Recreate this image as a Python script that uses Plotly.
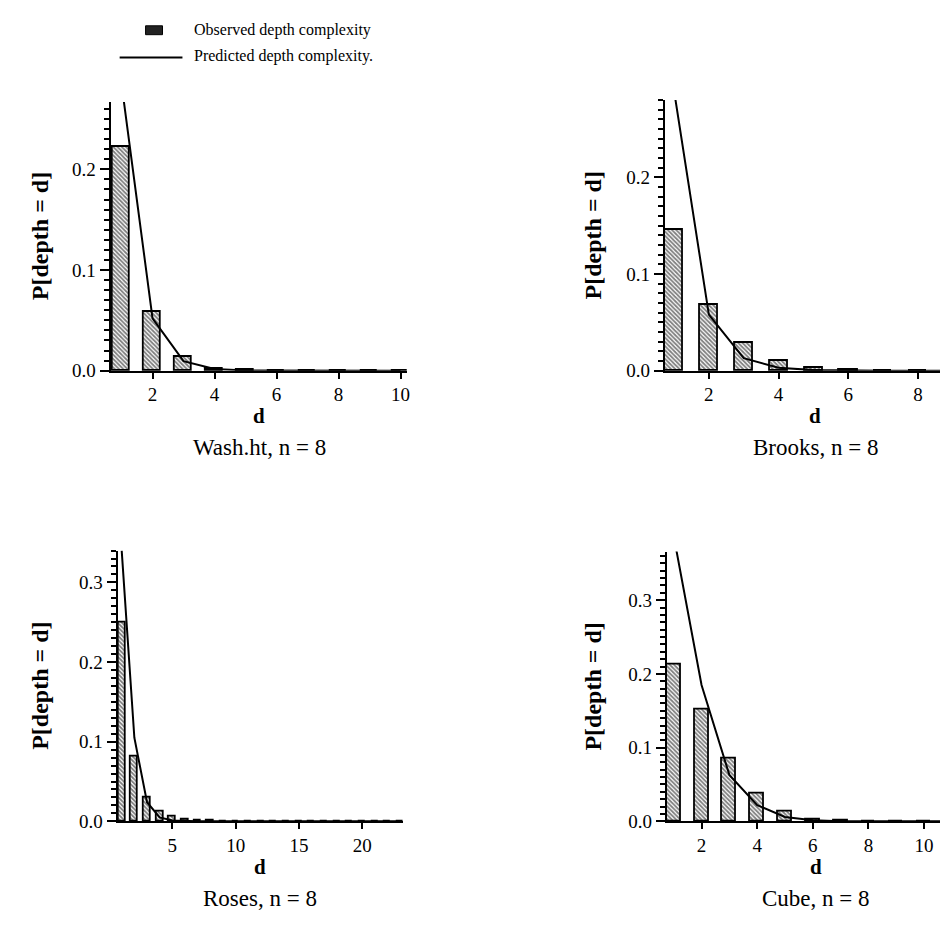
import plotly.graph_objects as go

W, H = 948, 938

# ---------------- data ----------------
d_wash = list(range(1, 11))
obs_wash = [0.222, 0.058, 0.0137, 0.0022, 0.0006, 0.0001, 0, 0, 0, 0]
pred_wash = [0.285, 0.052, 0.0095, 0.0017, 0.0003, 0.0001, 0, 0, 0, 0]

d_brooks = list(range(1, 11))
obs_brooks = [0.146, 0.068, 0.0285, 0.0105, 0.003, 0.0008, 0.0002, 0, 0, 0]
pred_brooks = [0.29, 0.058, 0.013, 0.003, 0.0006, 0.0001, 0, 0, 0, 0]

d_roses = list(range(1, 24))
obs_roses = [0.249, 0.081, 0.030, 0.012, 0.006, 0.002, 0.001, 0.0005] + [0] * 15
pred_roses = [0.34, 0.105, 0.024, 0.005, 0.001, 0.0002] + [0] * 17

d_cube = list(range(1, 12))
obs_cube = [0.213, 0.151, 0.085, 0.038, 0.0134, 0.003, 0.001, 0.0003, 0, 0, 0]
pred_cube = [0.387, 0.185, 0.063, 0.022, 0.006, 0.0015, 0.0003, 0, 0, 0, 0]

titles = ["Wash.ht, n = 8", "Brooks, n = 8", "Roses, n = 8", "Cube, n = 8"]
x_ticks = [[2, 4, 6, 8, 10], [2, 4, 6, 8], [5, 10, 15, 20], [2, 4, 6, 8, 10]]
y_ticks = [[0.0, 0.1, 0.2], [0.0, 0.1, 0.2], [0.0, 0.1, 0.2, 0.3], [0.0, 0.1, 0.2, 0.3]]
obs_label = "Observed depth complexity"
pred_label = "Predicted depth complexity."

series = [
    (d_wash, obs_wash, pred_wash),
    (d_brooks, obs_brooks, pred_brooks),
    (d_roses, obs_roses, pred_roses),
    (d_cube, obs_cube, pred_cube),
]

# ---------------- layout (pixels) ----------------
layout_px = [
    dict(px=(103, 400), py=(95, 367), xr=[0.65, 10.2], yr=[0, 0.267], cx=252, bw=0.55),
    dict(px=(659, 948), py=(93, 367), xr=[0.74, 9.0], yr=[0, 0.28], cx=810, bw=0.52),
    dict(px=(110, 396), py=(549, 823), xr=[0.68, 23.2], yr=[0, 0.34], cx=253, bw=0.55),
    dict(px=(661, 948), py=(550, 823), xr=[0.755, 11.04], yr=[0, 0.366], cx=811, bw=0.5),
]
ytitle_x = [32, 587, 32, 587]

SERIF = "Liberation Serif, Times New Roman, serif"


def fx(x):
    return x / W


def fy(y):
    return 1 - y / H


fig = go.Figure()
annotations = []

for i, ((d, obs, pred), L) in enumerate(zip(series, layout_px)):
    n = "" if i == 0 else str(i + 1)
    xa, ya = "x" + n, "y" + n
    fig.add_trace(go.Bar(
        x=d, y=obs, xaxis=xa, yaxis=ya, width=L["bw"],
        name=obs_label, showlegend=False,
        marker=dict(color="white", line=dict(color="black", width=1.8),
                    pattern=dict(shape="\\", fgcolor="black", bgcolor="white",
                                 size=3, solidity=0.6)),
    ))
    fig.add_trace(go.Scatter(
        x=d, y=pred, xaxis=xa, yaxis=ya, mode="lines",
        name=pred_label, showlegend=False,
        line=dict(color="black", width=2),
    ))
    axis_common = dict(showgrid=False, zeroline=False, showline=True,
                       linecolor="black", linewidth=2, ticks="outside",
                       tickcolor="black", tickwidth=2,
                       tickfont=dict(family=SERIF, size=19, color="black"))
    fig.update_layout(**{
        "xaxis" + n: dict(domain=[fx(L["px"][0]), fx(L["px"][1])],
                          range=L["xr"], anchor=ya, tickvals=x_ticks[i],
                          ticklen=6, **axis_common),
        "yaxis" + n: dict(domain=[fy(L["py"][1]), fy(L["py"][0])],
                          range=L["yr"], anchor=xa, tickvals=y_ticks[i],
                          tickformat=".1f", ticklen=9,
                          minor=dict(dtick=0.01, ticks="outside", ticklen=5,
                                     tickcolor="black", tickwidth=2),
                          **axis_common),
    })
    base = L["py"][1]
    annotations.append(dict(x=fx(L["cx"]), y=fy(base + 46), xref="paper", yref="paper",
                            text="<b>d</b>", showarrow=False, xanchor="center", yanchor="middle",
                            font=dict(family=SERIF, size=21, color="black")))
    annotations.append(dict(x=fx(L["cx"]), y=fy(base + 78), xref="paper", yref="paper",
                            text=titles[i], showarrow=False, xanchor="center", yanchor="middle",
                            font=dict(family=SERIF, size=23, color="black")))
    annotations.append(dict(x=fx(ytitle_x[i]), y=fy((L["py"][0] + L["py"][1]) / 2),
                            xref="paper", yref="paper", text="<b>P[depth = d]</b>",
                            showarrow=False, textangle=-90, xanchor="center", yanchor="middle",
                            font=dict(family=SERIF, size=24, color="black")))

# custom legend (top left)
annotations.append(dict(x=fx(185), y=fy(22), xref="paper", yref="paper", text=obs_label,
                        showarrow=False, xanchor="left", yanchor="middle",
                        font=dict(family=SERIF, size=16, color="black")))
annotations.append(dict(x=fx(185), y=fy(49), xref="paper", yref="paper", text=pred_label,
                        showarrow=False, xanchor="left", yanchor="middle",
                        font=dict(family=SERIF, size=16, color="black")))
shapes = [
    dict(type="rect", xref="paper", yref="paper", x0=fx(138), x1=fx(155), y0=fy(27), y1=fy(18),
         fillcolor="#222222", line=dict(color="black", width=1)),
    dict(type="line", xref="paper", yref="paper", x0=fx(112), x1=fx(175), y0=fy(50), y1=fy(50),
         line=dict(color="black", width=2)),
]

fig.update_layout(
    width=W, height=H, margin=dict(l=0, r=0, t=0, b=0),
    paper_bgcolor="white", plot_bgcolor="white",
    annotations=annotations, shapes=shapes, showlegend=False,
    bargap=0,
)

fig.write_html("out.html")
